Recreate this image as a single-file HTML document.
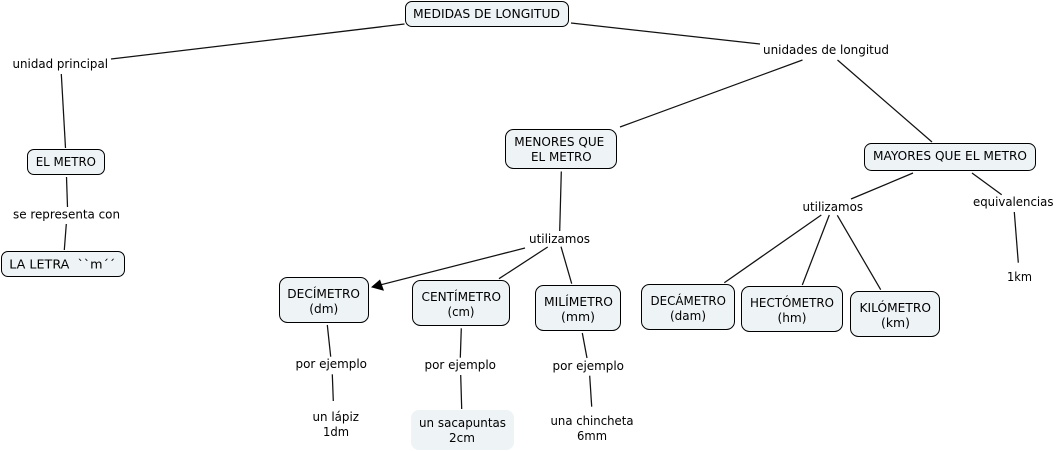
<!DOCTYPE html>
<html><head><meta charset="utf-8"><style>
html,body{margin:0;padding:0;background:#fff;width:1056px;height:451px;overflow:hidden}
svg{display:block}
text{font-family:"DejaVu Sans","Liberation Sans",sans-serif;font-size:12.8px;fill:#000}
rect.n{fill:#eef3f6;stroke:#000;stroke-width:1}
line{stroke:#111;stroke-width:1.25}
</style></head><body>
<svg width="1056" height="451" viewBox="0 0 1056 451" xmlns="http://www.w3.org/2000/svg">
<line x1="111" y1="59" x2="404.5" y2="24"/>
<line x1="571" y1="23" x2="760" y2="44"/>
<line x1="620" y1="127" x2="802.5" y2="60"/>
<line x1="837.5" y1="60" x2="932" y2="142"/>
<line x1="61.3" y1="74" x2="65.5" y2="148"/>
<line x1="66.5" y1="177" x2="67.5" y2="207"/>
<line x1="66.3" y1="224" x2="64.3" y2="250"/>
<line x1="561.3" y1="171.5" x2="559.7" y2="231"/>
<line x1="525" y1="248" x2="378" y2="285.5"/>
<polygon points="371,287.3 380,279.5 384,290.8" fill="#000"/>
<line x1="547.7" y1="247" x2="499" y2="278.7"/>
<line x1="561" y1="246.7" x2="571.7" y2="283.7"/>
<line x1="327.3" y1="325" x2="330.7" y2="356.7"/>
<line x1="332.3" y1="374.3" x2="333.3" y2="401"/>
<line x1="461.3" y1="328.3" x2="460.3" y2="357.7"/>
<line x1="460.7" y1="375" x2="461.7" y2="409"/>
<line x1="582.3" y1="333" x2="587" y2="358"/>
<line x1="589.7" y1="375.7" x2="591.7" y2="406.7"/>
<line x1="913" y1="173" x2="851" y2="199"/>
<line x1="972" y1="173" x2="1001.7" y2="194.7"/>
<line x1="821.3" y1="215" x2="724.3" y2="282.7"/>
<line x1="829.3" y1="215" x2="802.3" y2="285"/>
<line x1="837.3" y1="215.3" x2="880.7" y2="289.7"/>
<line x1="1014.3" y1="212" x2="1018.3" y2="262.7"/>

<rect class="n" x="405.5" y="1.5" width="163" height="25" rx="6.5"/>
<rect class="n" x="505.5" y="129.5" width="111" height="39" rx="8"/>
<rect class="n" x="27.5" y="149.5" width="77" height="25" rx="6.5"/>
<rect class="n" x="1.5" y="251.5" width="123" height="25" rx="6.5"/>
<rect class="n" x="279.5" y="277.5" width="89" height="45" rx="8"/>
<rect class="n" x="412.5" y="280.5" width="97" height="45" rx="8"/>
<rect class="n" x="535.5" y="285.5" width="85" height="45" rx="8"/>
<rect x="411" y="410" width="103" height="40" rx="8" fill="#eef3f6"/>
<rect class="n" x="864.5" y="143.5" width="171" height="27" rx="7"/>
<rect class="n" x="641.5" y="284.5" width="93" height="45" rx="8"/>
<rect class="n" x="741.5" y="286.5" width="101" height="45" rx="8"/>
<rect class="n" x="850.5" y="291.5" width="89" height="45" rx="8"/>

<text x="413" y="18" textLength="147" lengthAdjust="spacingAndGlyphs">MEDIDAS DE LONGITUD</text>
<text x="12.5" y="68" textLength="95.5" lengthAdjust="spacingAndGlyphs">unidad principal</text>
<text x="763" y="54" textLength="126" lengthAdjust="spacingAndGlyphs">unidades de longitud</text>
<text x="514.3" y="146" textLength="90" lengthAdjust="spacingAndGlyphs">MENORES QUE</text>
<text x="531" y="161" textLength="60.7" lengthAdjust="spacingAndGlyphs">EL METRO</text>
<text x="35.7" y="166" textLength="60.3" lengthAdjust="spacingAndGlyphs">EL METRO</text>
<text x="13" y="218.5" textLength="107" lengthAdjust="spacingAndGlyphs">se representa con</text>
<text x="9.3" y="268.5" textLength="106" lengthAdjust="spacingAndGlyphs" xml:space="preserve">LA LETRA  ``m´´</text>
<text x="529" y="243" textLength="61" lengthAdjust="spacingAndGlyphs">utilizamos</text>
<text x="287.3" y="298" textLength="72.7" lengthAdjust="spacingAndGlyphs">DECÍMETRO</text>
<text x="309.3" y="313" textLength="29" lengthAdjust="spacingAndGlyphs">(dm)</text>
<text x="421.5" y="301" textLength="79.5" lengthAdjust="spacingAndGlyphs">CENTÍMETRO</text>
<text x="447.5" y="316" textLength="27" lengthAdjust="spacingAndGlyphs">(cm)</text>
<text x="544" y="306" textLength="69" lengthAdjust="spacingAndGlyphs">MILÍMETRO</text>
<text x="561" y="321" textLength="34" lengthAdjust="spacingAndGlyphs">(mm)</text>
<text x="295.5" y="368" textLength="71.5" lengthAdjust="spacingAndGlyphs">por ejemplo</text>
<text x="424.5" y="369" textLength="71.5" lengthAdjust="spacingAndGlyphs">por ejemplo</text>
<text x="552.5" y="370" textLength="71.5" lengthAdjust="spacingAndGlyphs">por ejemplo</text>
<text x="312.5" y="421" textLength="46.5" lengthAdjust="spacingAndGlyphs">un lápiz</text>
<text x="323" y="436" textLength="26" lengthAdjust="spacingAndGlyphs">1dm</text>
<text x="419" y="427" textLength="87" lengthAdjust="spacingAndGlyphs">un sacapuntas</text>
<text x="449" y="442" textLength="26" lengthAdjust="spacingAndGlyphs">2cm</text>
<text x="550.5" y="425" textLength="83" lengthAdjust="spacingAndGlyphs">una chincheta</text>
<text x="577" y="440" textLength="30" lengthAdjust="spacingAndGlyphs">6mm</text>
<text x="873" y="160" textLength="154" lengthAdjust="spacingAndGlyphs">MAYORES QUE EL METRO</text>
<text x="802.5" y="211" textLength="60.5" lengthAdjust="spacingAndGlyphs">utilizamos</text>
<text x="973" y="206" textLength="80.5" lengthAdjust="spacingAndGlyphs">equivalencias</text>
<text x="1007" y="281" textLength="25" lengthAdjust="spacingAndGlyphs">1km</text>
<text x="650.5" y="305" textLength="75.5" lengthAdjust="spacingAndGlyphs">DECÁMETRO</text>
<text x="670" y="320" textLength="36" lengthAdjust="spacingAndGlyphs">(dam)</text>
<text x="750" y="307" textLength="84" lengthAdjust="spacingAndGlyphs">HECTÓMETRO</text>
<text x="777.5" y="322" textLength="29" lengthAdjust="spacingAndGlyphs">(hm)</text>
<text x="859.5" y="312" textLength="71.5" lengthAdjust="spacingAndGlyphs">KILÓMETRO</text>
<text x="881" y="327" textLength="29" lengthAdjust="spacingAndGlyphs">(km)</text>
</svg>
</body></html>
